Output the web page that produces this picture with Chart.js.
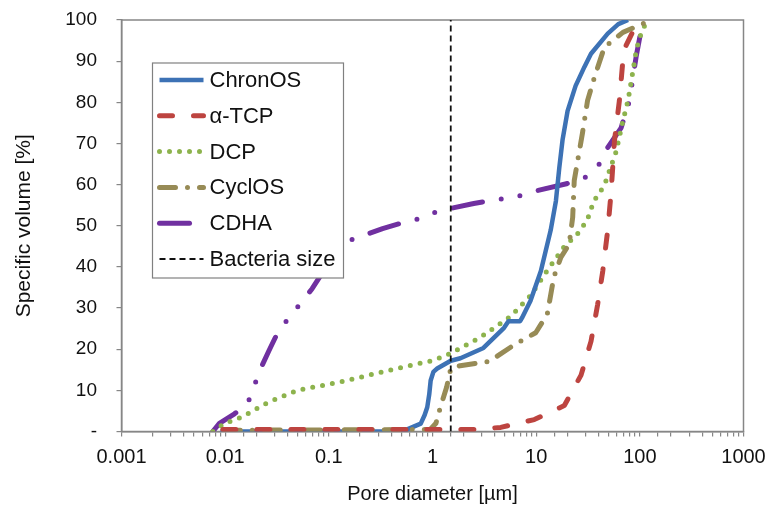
<!DOCTYPE html>
<html>
<head>
<meta charset="utf-8">
<script src="https://cdn.jsdelivr.net/npm/chart.js@4.4.1/dist/chart.umd.min.js"></script>
<style>
  html, body { margin: 0; padding: 0; background: #fff; }
  #wrap { width: 776px; height: 506px; }
</style>
</head>
<body>
<div id="wrap"><canvas id="poreChart" width="776" height="506"></canvas></div>
<script>
// pore diameter [µm] (x) vs cumulative specific volume [%] (y)
const chronosX = [0.009, 0.4, 0.57, 0.77, 0.84, 0.89, 0.93, 0.96, 1.02, 1.11, 1.5, 1.86, 3.1, 4.9, 5.4, 7.0, 7.3, 8.8, 11.1, 13.8, 15.5, 16.7, 18, 20.1, 24, 29.2, 33.8, 49, 62, 77];
const chronosY = [0, 0, 0.5, 1.9, 4, 5.9, 9, 12.4, 14.5, 15.3, 17.2, 17.8, 20.3, 25.2, 26.8, 26.8, 27.6, 31.7, 39, 48.9, 56, 64, 71, 77.9, 84, 88.6, 91.8, 96.7, 99, 100];

const tcpX = [0.0095, 2.6, 4.55, 9.6, 18.7, 27.1, 33.8, 39.2, 43.9, 49, 52.7, 56.9, 63.5, 68, 71, 85, 98, 103];
const tcpY = [0.5, 0.5, 1, 2.9, 6.3, 13.7, 21.9, 30.9, 39, 48.9, 57.8, 70.6, 80.4, 89, 93, 97, 99.5, 100];

const dcpX = [0.0076, 0.0098, 0.0144, 0.026, 0.05, 0.15, 0.45, 1.03, 1.5, 2.9, 5.7, 8.8, 12.7, 18.5, 25, 31, 36, 45.5, 59, 68, 77, 85, 93, 105, 120];
const dcpY = [0, 1.9, 3.5, 7.1, 10, 12.4, 15.3, 17.3, 19, 22.9, 28, 33, 39, 44.8, 48, 51.3, 56, 59.8, 68, 75, 80.5, 87, 93, 97.5, 100];

const cyclosX = [0.0098, 0.95, 1.08, 1.19, 1.37, 1.5, 1.85, 3.5, 6.1, 9.9, 12.8, 14.8, 17.3, 20.8, 22.5, 23.3, 28, 31.3, 36.4, 45.5, 68.7, 119, 135];
const cyclosY = [0.3, 0.5, 2, 5.9, 10.8, 15.3, 16, 17, 21, 24, 28.5, 37.5, 42.3, 45.5, 52, 61, 72.6, 80.4, 86, 93.4, 97, 99.6, 100];

const cdhaX = [0.0076, 0.0088, 0.0123, 0.0165, 0.022, 0.0265, 0.0325, 0.043, 0.069, 0.1, 0.16, 0.33, 0.51, 0.77, 1.15, 2.5, 4.0, 6.3, 10.1, 19.6, 30, 40.7, 49, 66, 79.4, 92, 103, 106, 108];
const cdhaY = [0, 2, 4.3, 6.8, 15.3, 19.7, 24.3, 28.2, 34.7, 41, 46.5, 49.3, 50.7, 51.8, 53.6, 55.4, 56.3, 57, 58.5, 60.2, 61.8, 65, 69, 73.8, 80.4, 91, 97.6, 99.2, 100];

const bacteriaSize = 1.5;   // µm
const bacteriaY = [0, 100];

const xDecades = [0.001, 0.01, 0.1, 1, 10, 100, 1000];
const yTickValues = [0, 10, 20, 30, 40, 50, 60, 70, 80, 90, 100];

const FONT = '"Liberation Sans", Arial, sans-serif';

function toPoints(xs, ys) {
  return xs.map((x, i) => ({ x: x, y: ys[i] }));
}

// legend drawn inside the plot, over the curves, like the original
const legendBox = {
  id: 'legendBox',
  afterDatasetsDraw(chart) {
    const ctx = chart.ctx;
    const a = chart.chartArea;
    const x0 = a.left + 31, y0 = a.top + 43, w = 191, h = 215;
    ctx.save();
    ctx.fillStyle = '#fff';
    ctx.fillRect(x0, y0, w, h);
    ctx.strokeStyle = '#808080';
    ctx.lineWidth = 1.2;
    ctx.strokeRect(x0, y0, w, h);
    chart.data.datasets.forEach((ds, i) => {
      const y = y0 + 17 + i * 35.8;
      ctx.beginPath();
      ctx.setLineDash(ds.borderDash || []);
      ctx.lineCap = ds.borderCapStyle || 'butt';
      ctx.lineWidth = ds.borderWidth;
      ctx.strokeStyle = ds.borderColor;
      ctx.moveTo(x0 + 7, y);
      ctx.lineTo(x0 + 51, y);
      ctx.stroke();
      ctx.setLineDash([]);
      ctx.fillStyle = '#111';
      ctx.font = '22px ' + FONT;
      ctx.textBaseline = 'middle';
      ctx.fillText(ds.label, x0 + 57, y + 1);
    });
    ctx.restore();
  }
};

// grey box round the plot area
const plotFrame = {
  id: 'plotFrame',
  beforeDatasetsDraw(chart) {
    const { ctx, chartArea: a } = chart;
    ctx.save();
    ctx.strokeStyle = '#868686';
    ctx.lineWidth = 1.5;
    ctx.strokeRect(a.left, a.top, a.right - a.left, a.bottom - a.top);
    ctx.restore();
  }
};

new Chart(document.getElementById('poreChart').getContext('2d'), {
  type: 'line',
  data: {
    datasets: [
      { label: 'ChronOS', data: toPoints(chronosX, chronosY), borderColor: '#3d72b5', borderWidth: 4.5, order: 3 },
      { label: 'α-TCP', data: toPoints(tcpX, tcpY), borderColor: '#bd4440', borderWidth: 5, borderDash: [13, 21], borderCapStyle: 'round', order: 1 },
      { label: 'DCP', data: toPoints(dcpX, dcpY), borderColor: '#8db34d', borderWidth: 5, borderDash: [0, 10], borderCapStyle: 'round', order: 4 },
      { label: 'CyclOS', data: toPoints(cyclosX, cyclosY), borderColor: '#978b56', borderWidth: 5, borderDash: [16, 12, 0, 12], borderCapStyle: 'round', order: 2 },
      { label: 'CDHA', data: toPoints(cdhaX, cdhaY), borderColor: '#7030a0', borderWidth: 5, borderDash: [30, 19, 0, 19, 0, 19], borderCapStyle: 'round', order: 5 },
      { label: 'Bacteria size', data: toPoints([bacteriaSize, bacteriaSize], bacteriaY), borderColor: '#111', borderWidth: 1.8, borderDash: [6, 4], order: 0 }
    ]
  },
  options: {
    responsive: false,
    animation: false,
    events: [],
    layout: { padding: { top: 20, right: 32.5, left: 0, bottom: 0 } },
    elements: {
      point: { radius: 0 },
      line: { tension: 0, fill: false, borderJoinStyle: 'round' }
    },
    plugins: { legend: { display: false }, tooltip: { enabled: false } },
    scales: {
      x: {
        type: 'logarithmic',
        min: 0.001,
        max: 1000,
        afterFit: s => { s.height = 74.5; },
        border: { display: true, color: '#868686', width: 1.5 },
        grid: { display: true, drawOnChartArea: false, drawTicks: true, tickLength: 5, color: '#868686', lineWidth: 1.2 },
        ticks: {
          autoSkip: false,
          maxRotation: 0,
          padding: 8.5,
          color: '#111',
          font: { family: FONT, size: 20 },
          callback: v => xDecades.some(d => Math.abs(Math.log10(v) - Math.log10(d)) < 1e-6) ? String(v) : ''
        },
        title: { display: true, text: 'Pore diameter [µm]', color: '#111', font: { family: FONT, size: 20 }, padding: { top: 0, bottom: 0 } }
      },
      y: {
        min: 0,
        max: 100,
        afterFit: s => { s.width = 121.5; s.paddingTop = 10; s.paddingBottom = 10; },
        afterBuildTicks: s => { s.ticks = yTickValues.map(v => ({ value: v })); },
        border: { display: true, color: '#868686', width: 1.5 },
        grid: { display: true, drawOnChartArea: false, drawTicks: true, tickLength: 5, color: '#868686', lineWidth: 1.2 },
        ticks: {
          padding: 19.5,
          color: '#111',
          font: { family: FONT, size: 19 },
          callback: v => v === 0 ? '-' : String(v)
        },
        title: { display: true, text: 'Specific volume [%]', color: '#111', font: { family: FONT, size: 21 }, padding: { top: 11.4, bottom: 0 } }
      }
    }
  },
  plugins: [plotFrame, legendBox]
});
</script>
</body>
</html>
